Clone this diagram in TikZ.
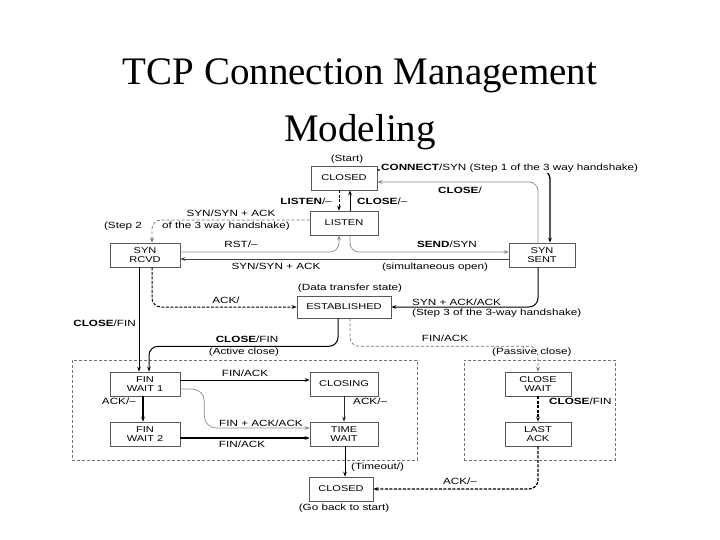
\documentclass[tikz,border=0pt]{standalone}
\usepackage{fontspec}
\setmainfont{Liberation Serif}
\newfontfamily\dg[FakeStretch=1.3]{Liberation Sans}
\usetikzlibrary{arrows.meta,calc}
\begin{document}
\begin{tikzpicture}[x=1pt,y=-1pt,
  box/.style={draw=black!65, line width=0.6pt, fill=white, minimum height=24pt, inner sep=1pt, align=center, font=\dg\fontsize{8.5}{8.8}\selectfont},
  lbl/.style={font=\dg\fontsize{9}{10}\selectfont, inner sep=1pt},
  tip/.style={-{Stealth[length=5pt,width=3.6pt]}},
  blk/.style={tip, draw=black, line width=1pt},
  thk/.style={tip, draw=black, line width=1.3pt},
  gry/.style={tip, draw=black!45, line width=0.7pt},
  dsh/.style={tip, draw=black, line width=1pt, dash pattern=on 3pt off 1.5pt},
  gdsh/.style={tip, draw=black!55, line width=0.7pt, dash pattern=on 3pt off 2pt},
  frame/.style={draw=black!55, line width=0.6pt, dash pattern=on 3pt off 2pt, minimum width=345pt, minimum height=100pt, inner sep=0pt},
  rc/.style={rounded corners=9pt}
]
\useasboundingbox (0,0) rectangle (720,540);
\fill[white] (0,0) rectangle (720,540);

% title
\node[font=\fontsize{39}{39}\selectfont, anchor=base, inner sep=0pt] (t1) at (360,85) {TCP Connection Management};
\node[font=\fontsize{39}{39}\selectfont, anchor=base, inner sep=0pt] (t2) at (360,142) {Modeling};

% dashed frames
\node[frame] (activeframe) at (244.5,410) {};
\node[frame, minimum width=151pt] (passiveframe) at (539.5,410) {};

% states
\node[box, minimum width=66pt] (closedT) at (344,178) {CLOSED};
\node[box, minimum width=68pt] (listen) at (344,223) {LISTEN};
\node[box, minimum width=70pt] (synrcvd) at (145,255) {SYN\\RCVD};
\node[box, minimum width=66pt] (synsent) at (542,255) {SYN\\SENT};
\node[box, minimum width=94pt, minimum height=22pt] (estab) at (344,307) {ESTABLISHED};
\node[box, minimum width=70pt] (fw1) at (145,384) {FIN\\WAIT 1};
\node[box, minimum width=68pt] (closing) at (344,384) {CLOSING};
\node[box, minimum width=70pt] (fw2) at (145,434) {FIN\\WAIT 2};
\node[box, minimum width=68pt] (timewait) at (344,434) {TIME\\WAIT};
\node[box, minimum width=66pt] (closewait) at (538,384) {CLOSE\\WAIT};
\node[box, minimum width=66pt] (lastack) at (538,434) {LAST\\ACK};
\node[box, minimum width=64pt] (closedB) at (341,489) {CLOSED};

% free labels
\node[lbl] (lstart) at (347,159) {(Start)};
\node[lbl] (ldata) at (350,288) {(Data transfer state)};
\node[lbl] (lgoback) at (344,508) {(Go back to start)};

% CLOSED <-> LISTEN
\draw[dsh] ([xshift=-5pt]closedT.south) -- ([xshift=-5pt]listen.north);
\draw[blk] ([xshift=6pt]listen.north) -- ([xshift=6pt]closedT.south);
\node[lbl, anchor=east] (lListen) at (333,201) {\textbf{LISTEN}/–};
\node[lbl, anchor=west] (lClose1) at (356,201) {\textbf{CLOSE}/–};

% CONNECT / CLOSE
\draw[thk, rc] ([yshift=8pt]closedT.east) -| ([xshift=8pt]synsent.north);
\node[lbl, anchor=west, fill=white] (lConnect) at (380,168) {\textbf{CONNECT}/SYN (Step 1 of the 3 way handshake)};
\draw[gry, rc] ([xshift=-4pt]synsent.north) |- ([yshift=-4pt]closedT.east);
\node[lbl] (lClose2) at (460,190) {\textbf{CLOSE}/};

% LISTEN -> SYN RCVD
\draw[gdsh, rc] ([yshift=3pt]listen.west) -| ([xshift=7pt]synrcvd.north);
\node[lbl] (lSynAck1) at (231,213) {SYN/SYN + ACK};
\node[lbl, anchor=east] (lStep2a) at (143,226) {(Step 2};
\node[lbl, anchor=west] (lStep2b) at (161,226) {of the 3 way handshake)};

% RST, SEND, simultaneous open
\draw[gry, rc] ([yshift=3pt]synrcvd.east) -| ([xshift=-5pt]listen.south);
\node[lbl] (lRst) at (241,244) {RST/–};
\draw[gry, rc] ([xshift=6pt]listen.south) |- ([yshift=3pt]synsent.west);
\node[lbl] (lSend) at (447,244) {\textbf{SEND}/SYN};
\draw[tip, draw=black!75, line width=0.8pt] ([yshift=-4pt]synsent.west) -- ([yshift=-4pt]synrcvd.east);
\node[lbl] (lSynAck2) at (276,266) {SYN/SYN + ACK};
\node[lbl] (lSimul) at (435,267) {(simultaneous open)};

% to ESTABLISHED
\draw[dsh, rc] ([xshift=7pt]synrcvd.south) |- (estab.west);
\node[lbl] (lAck1) at (226,300) {ACK/};
\draw[blk, rc] ([xshift=-4pt]synsent.south) |- (estab.east);
\node[lbl, anchor=west] (lSynAck3) at (411,302) {SYN + ACK/ACK};
\node[lbl, anchor=west] (lStep3) at (411,313) {(Step 3 of the 3-way handshake)};

% to FIN WAIT 1
\draw[blk] ([xshift=-6pt]synrcvd.south) -- ([xshift=-6pt]fw1.north);
\node[lbl, anchor=east] (lCloseFin1) at (137,323) {\textbf{CLOSE}/FIN};
\draw[blk, rc] ([xshift=-6pt]estab.south) -- ++(0,28) -| ([xshift=4pt]fw1.north);
\node[lbl] (lCloseFin2) at (247,339) {\textbf{CLOSE}/FIN};
\node[lbl] (lActive) at (244,352) {(Active close)};

% to CLOSE WAIT
\draw[gdsh, rc] ([xshift=6pt]estab.south) -- ++(0,28) -| (closewait.north);
\node[lbl] (lFinAck1) at (445,338) {FIN/ACK};
\node[lbl, anchor=west] (lPassive) at (491,352) {(Passive close)};

% active close
\draw[blk] ([yshift=4pt]fw1.east) -- ([yshift=4pt]closing.west);
\node[lbl] (lFinAck2) at (245,373) {FIN/ACK};
\draw[thk] ([xshift=-2pt]fw1.south) -- ([xshift=-2pt]fw2.north);
\node[lbl, anchor=east] (lAck2) at (137,401) {ACK/–};
\draw[gry, rounded corners=12pt] ([yshift=-5pt]fw1.east) -- ++(24,0) |- ([yshift=6pt]timewait.west);
\node[lbl] (lFinAckAck) at (261,423) {FIN + ACK/ACK};
\draw[thk] ([yshift=-4pt]fw2.east) -- ([yshift=-4pt]timewait.west);
\node[lbl] (lFinAck3) at (242,444) {FIN/ACK};
\draw[tip, draw=black!85, line width=0.8pt] (closing.south) -- (timewait.north);
\node[lbl, anchor=west] (lAck3) at (352,401) {ACK/–};
\draw[blk] ([xshift=1pt]timewait.south) -- ([xshift=4pt]closedB.north);
\node[lbl, anchor=west] (lTimeout) at (350,467) {(Timeout/)};

% passive close
\draw[dsh, line width=1.3pt] (closewait.south) -- (lastack.north);
\node[lbl, anchor=west] (lCloseFin3) at (548,401) {\textbf{CLOSE}/FIN};
\draw[dsh, line width=1.3pt, rc] (lastack.south) |- (closedB.east);
\node[lbl] (lAck4) at (460,481) {ACK/–};
\end{tikzpicture}
\end{document}
